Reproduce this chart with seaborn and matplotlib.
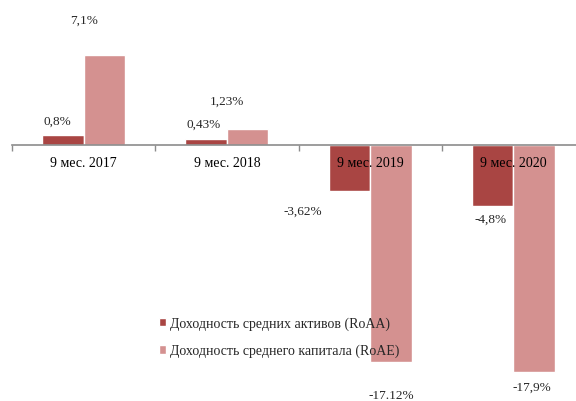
import seaborn as sns
import pandas as pd
import matplotlib.pyplot as plt

# data
periods = ['9 мес. 2017', '9 мес. 2018', '9 мес. 2019', '9 мес. 2020']
roaa = [0.8, 0.43, -3.62, -4.8]
roae = [7.1, 1.23, -17.12, -17.9]
roaa_labels = ['0,8%', '0,43%', '-3,62%', '-4,8%']
roae_labels = ['7,1%', '1,23%', '-17.12%', '-17,9%']
series = ['Доходность средних активов (RoAA)', 'Доходность среднего капитала (RoAE)']

# label offsets (x in category units, y in %), hand placed like the original
roaa_off = [(-0.18, 1.9), (-0.16, 1.65), (-0.47, -5.2), (-0.16, -5.8)]
roae_off = [(0.0, 9.9), (0.0, 3.5), (0.15, -19.7), (0.13, -19.1)]

df = pd.DataFrame({
    'period': periods * 2,
    'value': roaa + roae,
    'series': [series[0]] * 4 + [series[1]] * 4,
})

sns.set_style('white')
plt.rcParams['font.family'] = ['Liberation Serif', 'DejaVu Serif']

fig = plt.figure(figsize=(5.76, 4.02), dpi=100)
ax = fig.add_axes([12 / 576, 0.0, 573 / 576, 1.0])

sns.barplot(data=df, x='period', y='value', hue='series', order=periods,
            hue_order=series, palette=['#A94543', '#D49190'], width=0.58,
            saturation=1, ax=ax, legend=True)

ax.set_xlim(-0.5, 3.5)
ax.set_ylim(-20.2, 11.5)

for s in ['top', 'right', 'left']:
    ax.spines[s].set_visible(False)
ax.spines['bottom'].set_position(('data', 0))
ax.spines['bottom'].set_color('#8C8C8C')
ax.spines['bottom'].set_linewidth(1.2)
ax.set_xticks([-0.5, 0.5, 1.5, 2.5, 3.5])
ax.set_xticklabels([])
ax.tick_params(axis='x', direction='out', length=4, width=1, color='#8C8C8C', bottom=True)
ax.set_yticks([])
ax.set_xlabel('')
ax.set_ylabel('')

for i, p in enumerate(periods):
    ax.text(i, -1.4, p, ha='center', va='center', fontsize=10, color='black')
    ax.text(i + roaa_off[i][0], roaa_off[i][1], roaa_labels[i],
            ha='center', va='center', fontsize=9.5, color='#262626')
    ax.text(i + roae_off[i][0], roae_off[i][1], roae_labels[i],
            ha='center', va='center', fontsize=9.5, color='#262626')

ax.legend(loc='center left', bbox_to_anchor=(146 / 576, 1 - 338 / 402),
          bbox_transform=fig.transFigure, frameon=False, fontsize=10,
          handlelength=0.55, handleheight=0.55, handletextpad=0.25,
          labelspacing=1.0)

fig.savefig('out.png', dpi=100)
